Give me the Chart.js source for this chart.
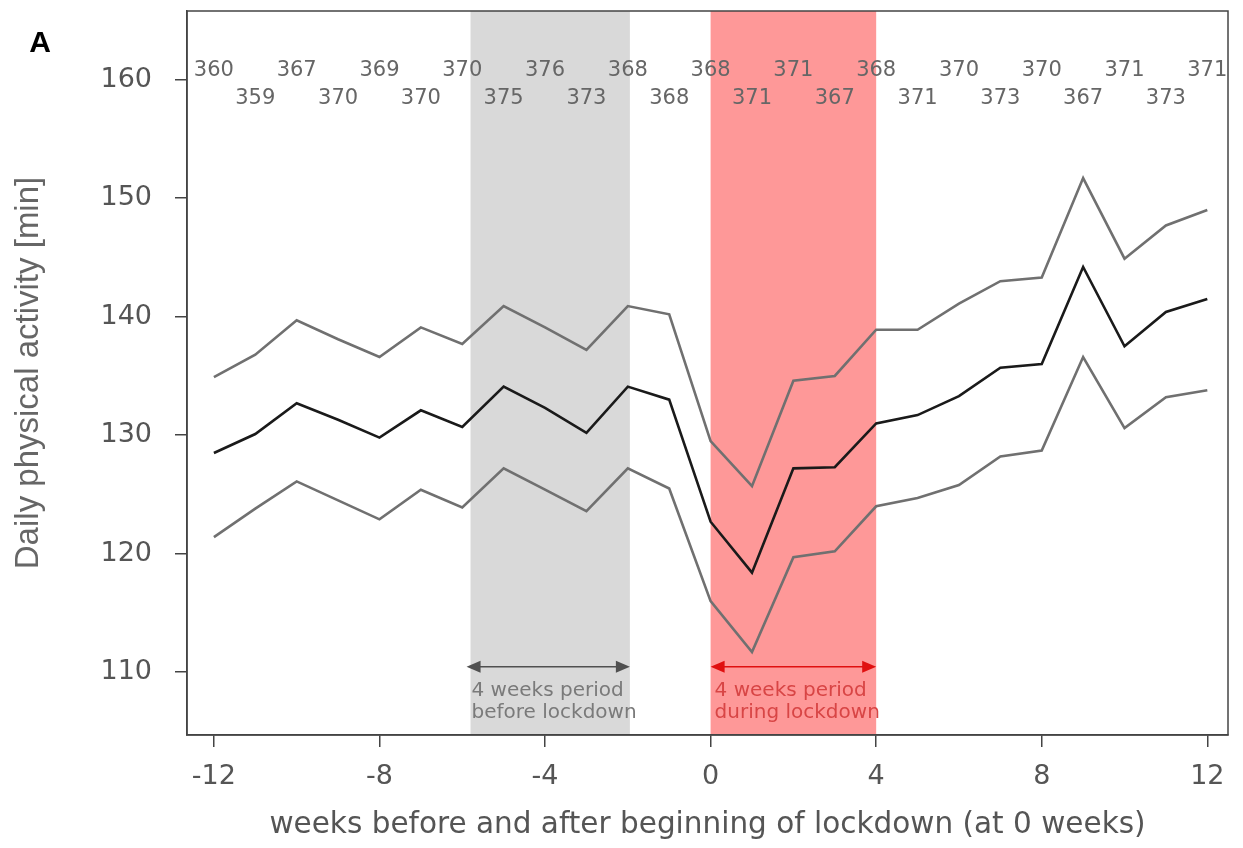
<!DOCTYPE html>
<html>
<head>
<meta charset="utf-8">
<script src="https://cdn.jsdelivr.net/npm/chart.js@4.4.0/dist/chart.umd.min.js"></script>
<style>
  html, body { margin: 0; padding: 0; background: #fff; }
  #wrap { width: 1243px; height: 848px; position: relative; }
</style>
</head>
<body>
<div id="wrap"><canvas id="myChart"></canvas></div>
<script>
(() => {
  "use strict";

  // Weeks before / after beginning of lockdown
  const weeks = [-12, -11, -10, -9, -8, -7, -6, -5, -4, -3, -2, -1, 0,
    1, 2, 3, 4, 5, 6, 7, 8, 9, 10, 11, 12];

  // Daily physical activity [min], mean and confidence band
  const meanActivity = [128.5, 130.1, 132.7, 131.3, 129.8, 132.1, 130.7, 134.1, 132.3, 130.2, 134.1, 133.0, 122.7,
    118.4, 127.2, 127.3, 131.0, 131.7, 133.3, 135.7, 136.0, 144.2, 137.5, 140.4, 141.5];
  const upperLimit = [134.9, 136.8, 139.7, 138.1, 136.6, 139.1, 137.7, 140.9, 139.1, 137.2, 140.9, 140.2, 129.5,
    125.7, 134.6, 135.0, 138.9, 138.9, 141.1, 143.0, 143.3, 151.7, 144.9, 147.7, 149.0];
  const lowerLimit = [121.4, 123.8, 126.1, 124.5, 122.9, 125.4, 123.9, 127.2, 125.4, 123.6, 127.2, 125.5, 116.0,
    111.7, 119.7, 120.2, 124.0, 124.7, 125.8, 128.2, 128.7, 136.6, 130.6, 133.2, 133.8];

  // Number of participants per week (printed on top)
  const participants = [360, 359, 367, 370, 369, 370, 370, 375, 376, 373, 368, 368, 368,
    371, 371, 367, 368, 371, 370, 373, 370, 367, 371, 373, 371];

  const xTickValues = [-12, -8, -4, 0, 4, 8, 12];
  const yTickValues = [110, 120, 130, 140, 150, 160];

  // Highlighted periods (weeks)
  const periodBefore = [-5.8, -1.95];
  const periodDuring = [0, 4];
  const periodBeforeText = ["4 weeks period", "before lockdown"];
  const periodDuringText = ["4 weeks period", "during lockdown"];

  const toPoints = (vals) => weeks.map((w, i) => ({ x: w, y: vals[i] }));

  // Shaded periods behind everything
  const bandsPlugin = {
    id: "bands",
    beforeDraw(chart) {
      const { ctx, chartArea, scales: { x } } = chart;
      const h = chartArea.bottom - chartArea.top;
      ctx.save();
      let a = x.getPixelForValue(periodBefore[0]);
      let b = x.getPixelForValue(periodBefore[1]);
      ctx.fillStyle = "#d9d9d9";
      ctx.fillRect(a, chartArea.top, b - a, h);
      a = x.getPixelForValue(periodDuring[0]);
      b = x.getPixelForValue(periodDuring[1]);
      ctx.fillStyle = "#fe9898";
      ctx.fillRect(a, chartArea.top, b - a, h);
      ctx.restore();
    }
  };

  function drawArrow(ctx, x0, x1, y, color) {
    ctx.strokeStyle = color;
    ctx.fillStyle = color;
    ctx.lineWidth = 1.5;
    ctx.beginPath();
    ctx.moveTo(x0 + 8, y);
    ctx.lineTo(x1 - 8, y);
    ctx.stroke();
    ctx.beginPath();
    ctx.moveTo(x0, y);
    ctx.lineTo(x0 + 14, y - 6);
    ctx.lineTo(x0 + 14, y + 6);
    ctx.closePath();
    ctx.fill();
    ctx.beginPath();
    ctx.moveTo(x1, y);
    ctx.lineTo(x1 - 14, y - 6);
    ctx.lineTo(x1 - 14, y + 6);
    ctx.closePath();
    ctx.fill();
  }

  // Frame, participant counts, period arrows and the panel letter
  const extrasPlugin = {
    id: "extras",
    afterDraw(chart) {
      const { ctx, chartArea, scales: { x, y } } = chart;
      ctx.save();

      // box round the plot
      ctx.strokeStyle = "#444";
      ctx.lineWidth = 1.5;
      ctx.strokeRect(chartArea.left, chartArea.top,
        chartArea.right - chartArea.left, chartArea.bottom - chartArea.top);

      // participant counts, alternating rows
      ctx.font = "21px 'DejaVu Sans'";
      ctx.fillStyle = "#666";
      ctx.textAlign = "center";
      ctx.textBaseline = "middle";
      participants.forEach((n, i) => {
        const row = i % 2 === 0 ? 160.75 : 158.45;
        ctx.fillText(String(n), x.getPixelForValue(weeks[i]), y.getPixelForValue(row));
      });

      // period arrows and notes
      const arrowY = y.getPixelForValue(110.45);
      drawArrow(ctx, x.getPixelForValue(periodBefore[0]) - 4, x.getPixelForValue(periodBefore[1]), arrowY, "#505050");
      drawArrow(ctx, x.getPixelForValue(periodDuring[0]), x.getPixelForValue(periodDuring[1]), arrowY, "#e01010");

      ctx.font = "20px 'DejaVu Sans'";
      ctx.textAlign = "left";
      ctx.fillStyle = "#7a7a7a";
      periodBeforeText.forEach((t, i) => {
        ctx.fillText(t, x.getPixelForValue(periodBefore[0]) + 1, y.getPixelForValue(108.45 - i * 1.85));
      });
      ctx.fillStyle = "#d84545";
      periodDuringText.forEach((t, i) => {
        ctx.fillText(t, x.getPixelForValue(periodDuring[0]) + 4, y.getPixelForValue(108.45 - i * 1.85));
      });

      // panel letter
      ctx.font = "bold 30px 'Liberation Sans'";
      ctx.fillStyle = "#000";
      ctx.textAlign = "center";
      ctx.fillText("A", 40, 44);
      ctx.restore();
    }
  };

  const ctx = document.getElementById("myChart");
  new Chart(ctx, {
    type: "line",
    data: {
      datasets: [
        {
          data: toPoints(meanActivity),
          borderColor: "#1a1a1a",
          borderWidth: 2.6,
          pointRadius: 0,
          tension: 0,
          order: 0,
        },
        {
          data: toPoints(upperLimit),
          borderColor: "#707070",
          borderWidth: 2.6,
          pointRadius: 0,
          tension: 0,
          order: 1,
        },
        {
          data: toPoints(lowerLimit),
          borderColor: "#707070",
          borderWidth: 2.6,
          pointRadius: 0,
          tension: 0,
          order: 1,
        },
      ],
    },
    options: {
      responsive: true,
      maintainAspectRatio: false,
      animation: false,
      layout: { padding: { top: 11, right: 15, left: 0, bottom: 0 } },
      plugins: {
        legend: { display: false },
        tooltip: { enabled: false },
      },
      scales: {
        x: {
          type: "linear",
          min: -12.65,
          max: 12.5,
          afterBuildTicks: (s) => { s.ticks = xTickValues.map((v) => ({ value: v })); },
          afterFit: (s) => { s.height = 113; s.paddingLeft = 0; s.paddingRight = 0; },
          grid: { drawOnChartArea: false, drawTicks: true, tickLength: 12, color: "#444", lineWidth: 1.5 },
          border: { display: true, color: "#444", width: 1.5 },
          ticks: {
            font: { family: "'DejaVu Sans'", size: 27 },
            color: "#555",
            padding: 14,
            maxRotation: 0,
          },
          title: {
            display: true,
            text: "weeks before and after beginning of lockdown (at 0 weeks)",
            font: { family: "'DejaVu Sans'", size: 29.5 },
            color: "#555",
            padding: { top: 0, bottom: 5 },
          },
        },
        y: {
          type: "linear",
          min: 104.7,
          max: 165.8,
          afterBuildTicks: (s) => { s.ticks = yTickValues.map((v) => ({ value: v })); },
          afterFit: (s) => { s.width = 187; s.paddingTop = 0; s.paddingBottom = 0; },
          grid: { drawOnChartArea: false, drawTicks: true, tickLength: 12, color: "#444", lineWidth: 1.5 },
          border: { display: true, color: "#444", width: 1.5 },
          ticks: {
            font: { family: "'DejaVu Sans'", size: 27 },
            color: "#555",
            padding: 23,
          },
          title: {
            display: true,
            text: "Daily physical activity [min]",
            font: { family: "'Liberation Sans'", size: 33 },
            color: "#666",
            padding: { top: 9, bottom: 0 },
          },
        },
      },
    },
    plugins: [bandsPlugin, extrasPlugin],
  });
})();
</script>
</body>
</html>
